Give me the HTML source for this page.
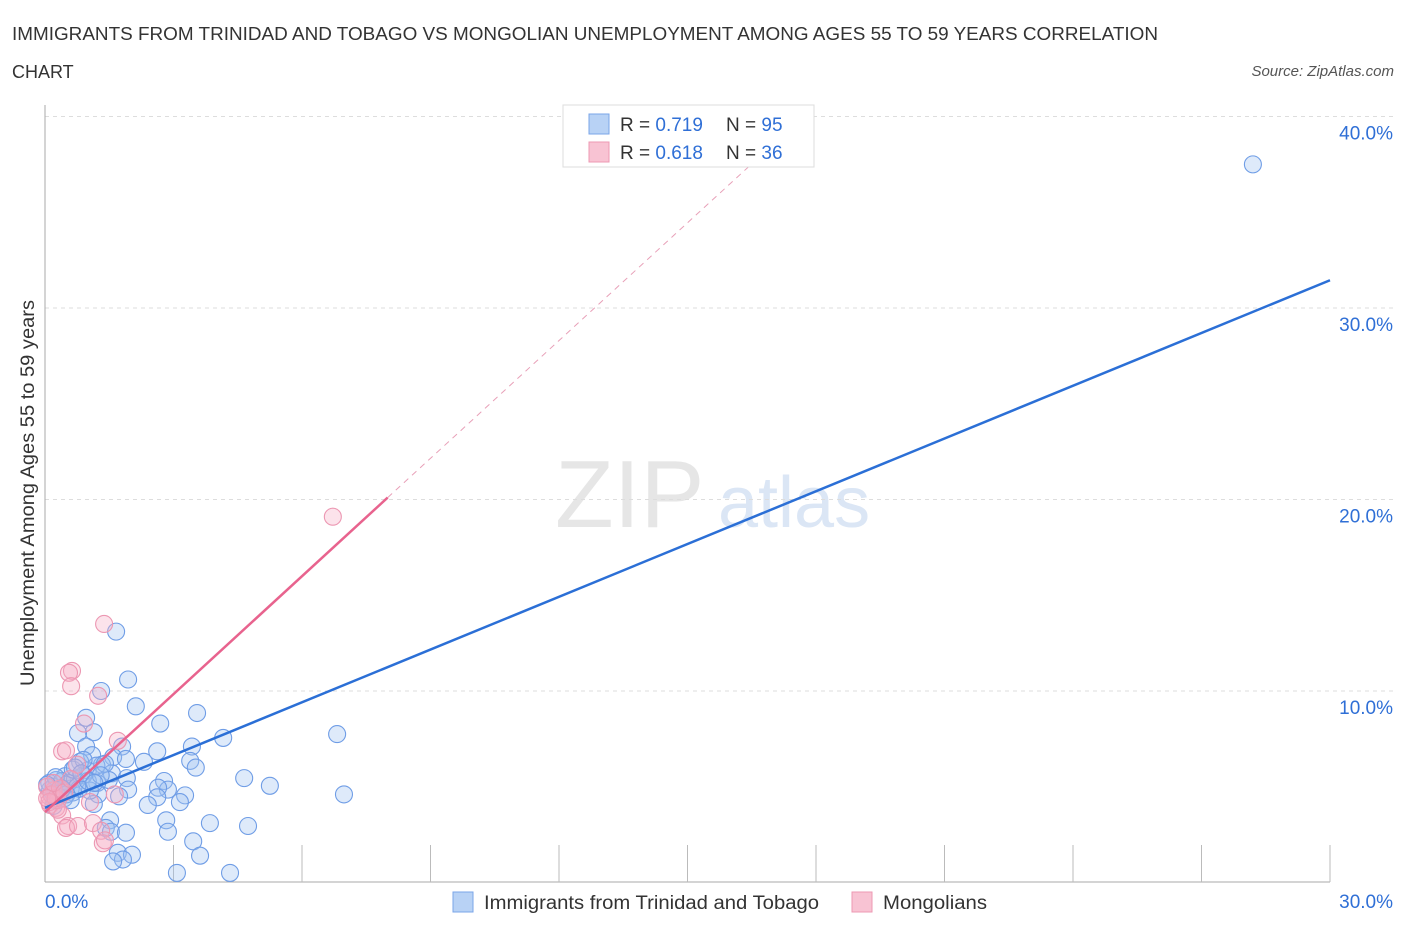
<!DOCTYPE html>
<html><head><meta charset="utf-8"><style>
body{margin:0;background:#fff;font-family:"Liberation Sans",sans-serif;}
svg text{font-family:"Liberation Sans",sans-serif;}
</style></head><body>
<svg id="c" width="1406" height="930">
<text x="12" y="40" font-size="18" fill="#333" textLength="1146" lengthAdjust="spacingAndGlyphs">IMMIGRANTS FROM TRINIDAD AND TOBAGO VS MONGOLIAN UNEMPLOYMENT AMONG AGES 55 TO 59 YEARS CORRELATION</text>
<text x="12" y="78" font-size="18" fill="#333">CHART</text>
<text x="1394" y="76" font-size="15" fill="#555" font-style="italic" text-anchor="end">Source: ZipAtlas.com</text>
<g><text x="555" y="527" font-size="96" fill="#e6e6e6" font-family="Liberation Serif">ZIP</text><text x="718" y="527" font-size="72" fill="#dbe6f5">atlas</text></g>
<g id="grid"></g><g id="pts"></g><g id="lines"></g>
<text transform="translate(34,493) rotate(-90)" font-size="19" fill="#333" text-anchor="middle" textLength="386" lengthAdjust="spacingAndGlyphs">Unemployment Among Ages 55 to 59 years</text>
<g>
<rect x="563" y="105" width="251" height="62" fill="#fff" stroke="#ddd"/>
<rect x="589" y="114" width="20" height="20" fill="#b8d2f5" stroke="#7aa5e8"/>
<text x="620" y="131" font-size="19" fill="#333">R = <tspan fill="#2f6fd6">0.719</tspan></text>
<text x="726" y="131" font-size="19" fill="#333">N = <tspan fill="#2f6fd6">95</tspan></text>
<rect x="589" y="142" width="20" height="20" fill="#f8c3d3" stroke="#ee98b3"/>
<text x="620" y="159" font-size="19" fill="#333">R = <tspan fill="#2f6fd6">0.618</tspan></text>
<text x="726" y="159" font-size="19" fill="#333">N = <tspan fill="#2f6fd6">36</tspan></text>
</g>
<g>
<rect x="453" y="892" width="20" height="20" fill="#b8d2f5" stroke="#7aa5e8"/>
<text x="484" y="909" font-size="19" fill="#333" textLength="335" lengthAdjust="spacingAndGlyphs">Immigrants from Trinidad and Tobago</text>
<rect x="852" y="892" width="20" height="20" fill="#f8c3d3" stroke="#ee98b3"/>
<text x="883" y="909" font-size="19" fill="#333" textLength="104" lengthAdjust="spacingAndGlyphs">Mongolians</text>
</g>
</svg>
<script>
const yTicks=[10,20,30,40];
const yTickLabels=["10.0%","20.0%","30.0%","40.0%"];
const xTickLabels=["0.0%","30.0%"];
const blueX=[28.2,1.66,1.94,1.31,2.12,3.55,0.96,2.69,1.14,0.77,6.82,4.16,1.80,3.43,0.96,2.62,1.10,1.59,1.89,0.82,2.31,3.39,1.33,3.52,1.00,1.56,4.65,2.78,1.91,1.49,0.47,0.26,5.25,1.22,1.94,2.87,2.64,0.65,1.24,3.27,6.98,2.62,1.73,2.40,3.15,1.14,0.12,0.23,2.83,1.52,3.85,4.74,1.42,1.54,2.87,1.89,3.46,1.70,2.03,3.62,1.82,1.59,3.08,4.32,0.1,0.2,0.3,0.4,0.5,0.6,0.7,0.15,0.35,0.55,0.8,0.9,0.25,0.45,1.05,0.65,0.75,0.05,0.3,0.5,1.2,1.4,0.9,1.0,0.6,0.2,0.4,1.3,0.7,0.85,1.15];
const blueY=[37.5,13.1,10.6,10.0,9.2,8.85,8.6,8.3,7.85,7.8,7.75,7.55,7.1,7.1,7.1,6.85,6.65,6.55,6.45,6.3,6.3,6.35,6.15,6.0,5.85,5.7,5.45,5.3,5.45,5.35,5.55,5.35,5.05,5.2,4.85,4.85,4.95,4.7,4.6,4.55,4.6,4.45,4.5,4.05,4.2,4.1,4.85,4.3,3.25,3.25,3.1,2.95,2.85,2.65,2.65,2.6,2.15,1.55,1.45,1.4,1.2,1.1,0.5,0.5,5.2,5.0,4.8,5.3,5.1,4.9,5.4,4.6,4.7,5.2,4.9,5.6,5.5,4.4,4.8,5.9,5.0,5.1,4.5,4.6,6.1,6.2,6.4,5.3,4.3,4.0,4.9,5.6,6.0,5.7,5.2];
const pinkX=[6.72,1.38,0.63,0.56,0.61,1.24,0.91,1.70,0.40,0.49,0.75,1.63,1.05,0.12,0.26,0.40,0.54,0.49,0.77,1.12,1.31,1.35,1.40,0.1,0.2,0.3,0.05,0.15,0.25,0.35,0.1,0.2,0.45,0.3,0.05,0.6];
const pinkY=[19.1,13.5,11.05,10.95,10.25,9.75,8.3,7.4,6.85,6.9,6.15,4.6,4.2,4.05,3.9,3.5,2.95,2.85,2.95,3.1,2.7,2.05,2.2,4.5,4.8,4.3,5.0,4.6,4.4,4.9,4.2,5.2,4.7,3.8,4.4,5.4];
const blueLine=[[0,3.9],[30,31.45]];
const pinkLine=[[0,3.68],[8.0,20.1]];
const pinkDash=[[8.0,20.1],[18.0,40.6]];
const X=v=>45+v/30*1285, Y=v=>882.5-v*19.15;
const NS="http://www.w3.org/2000/svg";
function mk(t,a,p){const e=document.createElementNS(NS,t);for(const k in a)e.setAttribute(k,a[k]);p.appendChild(e);return e;}
const grid=document.getElementById('grid');
yTicks.forEach((t,i)=>{
 const l=mk('line',{x1:45,x2:1395,y1:Y(t),y2:Y(t),stroke:'#ddd','stroke-dasharray':'4,4'},grid);
 
 
 const tx=mk('text',{x:1393,y:Y(t)+23,'font-size':19,fill:'#2f6fd6','text-anchor':'end'},grid);tx.textContent=yTickLabels[i];
 
 
});
mk('line',{x1:45,x2:45,y1:105,y2:882,stroke:'#aaa'},grid);
mk('line',{x1:45,x2:1330,y1:882,y2:882,stroke:'#aaa'},grid);
for(let i=1;i<=10;i++){mk('line',{x1:45+i*128.5,x2:45+i*128.5,y1:845,y2:882,stroke:'#bbb'},grid);}
[[0,'start',45],[1,'end',1393]].forEach(([i,a,x])=>{const t=mk('text',{x:x,y:908,'font-size':19,fill:'#2f6fd6','text-anchor':a},grid);t.textContent=xTickLabels[i];
 
 });
const pts=document.getElementById('pts');
blueX.forEach((x,i)=>{const c=mk('circle',{cx:X(x),cy:Y(blueY[i]),r:8.5,fill:'rgba(160,195,240,0.35)',stroke:'#6f9de6','stroke-width':1.1},pts);
 
 });
pinkX.forEach((x,i)=>{const c=mk('circle',{cx:X(x),cy:Y(pinkY[i]),r:8.5,fill:'rgba(245,175,198,0.35)',stroke:'#ec97b2','stroke-width':1.1},pts);
 
 });
const lines=document.getElementById('lines');
let l=mk('line',{x1:X(blueLine[0][0]),y1:Y(blueLine[0][1]),x2:X(blueLine[1][0]),y2:Y(blueLine[1][1]),stroke:'#2b6fd6','stroke-width':2.5},lines);


l=mk('line',{x1:X(pinkLine[0][0]),y1:Y(pinkLine[0][1]),x2:X(pinkLine[1][0]),y2:Y(pinkLine[1][1]),stroke:'#e8638e','stroke-width':2.5},lines);


l=mk('line',{x1:X(pinkDash[0][0]),y1:Y(pinkDash[0][1]),x2:X(pinkDash[1][0]),y2:Y(pinkDash[1][1]),stroke:'#e8a0b8','stroke-width':1,'stroke-dasharray':'6,5'},lines);


</script>
</body></html>
